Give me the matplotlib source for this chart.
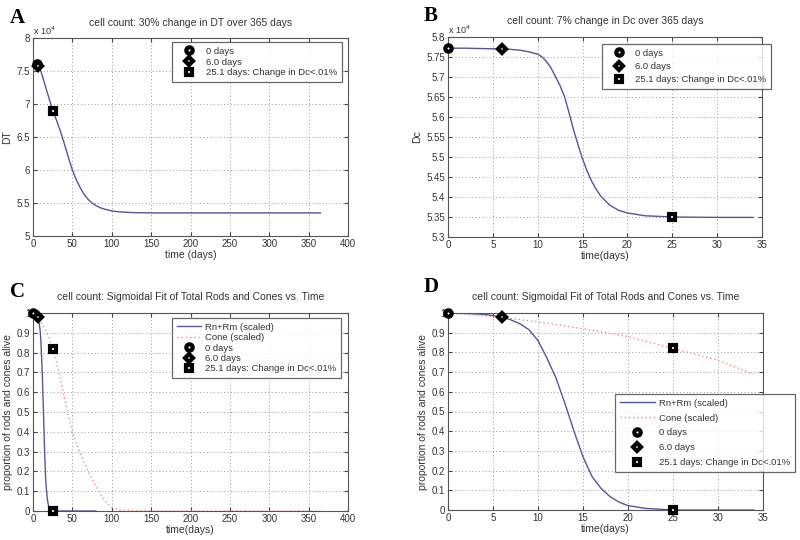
import numpy as np
import matplotlib.pyplot as plt
from matplotlib.ticker import FuncFormatter, MultipleLocator

plt.rcParams['font.family'] = ['Liberation Sans', 'DejaVu Sans']
plt.rcParams['font.size'] = 7

# panel A: DT over 365 days
a_t = [5, 10, 15, 20, 25, 30, 35, 40, 45, 50, 55, 60, 65, 70, 75, 80, 85, 90, 95, 100, 110, 125, 150, 200, 365]
a_dt = [7.60e4, 7.50e4, 7.30e4, 7.10e4, 6.90e4, 6.75e4, 6.58e4, 6.39e4, 6.19e4, 6.00e4, 5.85e4,
        5.73e4, 5.63e4, 5.555e4, 5.50e4, 5.46e4, 5.43e4, 5.41e4, 5.395e4, 5.38e4, 5.365e4, 5.355e4,
        5.35e4, 5.35e4, 5.35e4]
a_marks = {'o': (5, 7.60e4), 'D': (6, 7.58e4), 's': (25, 6.90e4)}

# panel B: Dc over 34 days
b_t = [0, 2, 4, 6, 7, 8, 9, 10, 10.5, 11, 11.5, 12, 12.5, 13, 13.5, 14, 14.5, 15, 15.5, 16, 16.5,
       17, 18, 19, 20, 22, 25, 30, 34]
b_dc = [5.772e4, 5.772e4, 5.771e4, 5.770e4, 5.769e4, 5.767e4, 5.763e4, 5.757e4, 5.750e4, 5.738e4,
        5.722e4, 5.700e4, 5.678e4, 5.650e4, 5.610e4, 5.568e4, 5.530e4, 5.495e4, 5.465e4, 5.440e4,
        5.420e4, 5.403e4, 5.380e4, 5.367e4, 5.360e4, 5.353e4, 5.350e4, 5.349e4, 5.349e4]
b_marks = {'o': (0, 5.772e4), 'D': (6, 5.770e4), 's': (25, 5.350e4)}

# panels C/D: rods and cones (scaled)
rod_t = [0, 2, 4, 6, 7, 8, 9, 10, 11, 12, 13, 14, 15, 16, 17, 18, 19, 20, 22, 25, 34]
rod_v = [1.0, 0.998, 0.993, 0.98, 0.965, 0.945, 0.915, 0.86, 0.77, 0.67, 0.54, 0.40, 0.27,
         0.17, 0.11, 0.068, 0.04, 0.022, 0.008, 0.0, 0.0]
rod_t_long = rod_t + [50, 80]
rod_v_long = rod_v + [0.0, 0.0]

cone_t = [0, 6, 10, 15, 20, 25, 30, 34]
cone_v = [1.0, 0.978, 0.955, 0.92, 0.88, 0.82, 0.76, 0.69]
cone_t_long = [0, 6, 10, 15, 20, 25, 30, 35, 40, 45, 50, 55, 60, 65, 70, 75, 80, 85, 90, 95,
               100, 110, 130, 150, 365]
cone_v_long = [1.0, 0.978, 0.955, 0.92, 0.88, 0.82, 0.75, 0.66, 0.57, 0.48, 0.40, 0.34, 0.29,
               0.245, 0.20, 0.16, 0.125, 0.09, 0.06, 0.035, 0.018, 0.006, 0.001, 0.0, 0.0]
cd_marks = {'o': [(0, 1.0)], 'D': [(6, 0.98)], 's': [(25, 0.82), (25, 0.0)]}

mark_labels = {'o': '0 days', 'D': '6.0 days', 's': '25.1 days: Change in Dc<.01%'}
blue = '#55559c'
pink = '#f08a8a'
txt = '#333333'

fig = plt.figure(figsize=(8, 5.4), dpi=100)


def style(ax, xmax, xstep):
    ax.set_xlim(0, xmax)
    ax.xaxis.set_major_locator(MultipleLocator(xstep))
    ax.grid(True, linestyle=(0, (1, 2.5)), color='#999999', linewidth=0.7)
    ax.tick_params(direction='in', top=True, right=True, length=3, labelsize=7,
                   colors='#444444', labelcolor=txt, pad=2)
    for s in ax.spines.values():
        s.set_color('#555555')
        s.set_linewidth(0.8)


def marker(ax, m, pts, label):
    xs = [p[0] for p in pts]
    ys = [p[1] for p in pts]
    size = 4.6 if m != 'D' else 4.3
    return ax.plot(xs, ys, m, ms=size, mfc='white', mec='black', mew=3.0,
                   linestyle='none', label=label, zorder=5, clip_on=False)[0]


def fig_legend(ax, handles, x0, y0, hl, hp, spacing):
    leg = ax.legend(handles=handles, loc='upper left', bbox_to_anchor=(x0 / 800, 1 - y0 / 540),
                    bbox_transform=fig.transFigure, fontsize=6.8, frameon=True, fancybox=False,
                    borderaxespad=0, handlelength=hl, labelspacing=spacing, borderpad=0.5,
                    handletextpad=hp)
    leg.get_frame().set_edgecolor('#444444')
    leg.get_frame().set_linewidth(0.9)
    for t in leg.get_texts():
        t.set_color(txt)
    return leg


sci = FuncFormatter(lambda v, p: f'{v / 1e4:g}')
order = ['o', 'D', 's']

# A
axA = fig.add_axes([33 / 800, 1 - 236 / 540, 315 / 800, 198 / 540])
axA.plot(a_t, a_dt, color=blue, lw=1.0)
hA = [marker(axA, m, [a_marks[m]], mark_labels[m]) for m in order]
style(axA, 400, 50)
axA.set_ylim(5e4, 8e4)
axA.yaxis.set_major_locator(MultipleLocator(0.5e4))
axA.yaxis.set_major_formatter(sci)
axA.set_title('cell count: 30% change in DT over 365 days', fontsize=7.5, color=txt, pad=9)
axA.set_xlabel('time (days)', fontsize=7.5, color=txt, labelpad=1)
axA.set_ylabel('DT', fontsize=7.5, color=txt, labelpad=3)
axA.text(0, 1.015, 'x 10$^4$', transform=axA.transAxes, fontsize=6.5, color=txt)
fig_legend(axA, hA, 172, 42, 2.7, 0.4, 0.2)
fig.text(10 / 800, 1 - 18 / 540, 'A', family='Liberation Serif', weight='bold', fontsize=15, va='center')

# B
axB = fig.add_axes([448 / 800, 1 - 237 / 540, 314 / 800, 200 / 540])
axB.plot(b_t, b_dc, color=blue, lw=1.0)
hB = [marker(axB, m, [b_marks[m]], mark_labels[m]) for m in order]
style(axB, 35, 5)
axB.set_ylim(5.3e4, 5.8e4)
axB.yaxis.set_major_locator(MultipleLocator(0.05e4))
axB.yaxis.set_major_formatter(sci)
axB.set_title('cell count: 7% change in Dc over 365 days', fontsize=7.5, color=txt, pad=9)
axB.set_xlabel('time(days)', fontsize=7.5, color=txt, labelpad=1)
axB.set_ylabel('Dc', fontsize=7.5, color=txt, labelpad=3)
axB.text(0, 1.015, 'x 10$^4$', transform=axB.transAxes, fontsize=6.5, color=txt)
fig_legend(axB, hB, 602, 44, 2.6, 0.4, 0.45)
fig.text(424 / 800, 1 - 16 / 540, 'B', family='Liberation Serif', weight='bold', fontsize=15, va='center')


def rods_cones(ax, rt, rv, ct, cv, xmax, xstep):
    l1, = ax.plot(rt, rv, color=blue, lw=1.0, label='Rn+Rm (scaled)')
    l2, = ax.plot(ct, cv, color=pink, lw=1.0, linestyle=(0, (1, 2)), label='Cone (scaled)')
    hs = [l1, l2] + [marker(ax, m, cd_marks[m], mark_labels[m]) for m in order]
    style(ax, xmax, xstep)
    ax.set_ylim(0, 1)
    ax.yaxis.set_major_locator(MultipleLocator(0.1))
    ax.yaxis.set_major_formatter(FuncFormatter(lambda v, p: f'{v:.1f}'.rstrip('0').rstrip('.') if v else '0'))
    ax.set_title('cell count: Sigmoidal Fit of Total Rods and Cones vs. Time', fontsize=7.5, color=txt, pad=9)
    ax.set_xlabel('time(days)', fontsize=7.5, color=txt, labelpad=1)
    ax.set_ylabel('proportion of rods and cones alive', fontsize=7.5, color=txt, labelpad=3)
    return hs


# C
axC = fig.add_axes([33 / 800, 1 - 511 / 540, 315 / 800, 198 / 540])
hC = rods_cones(axC, rod_t_long, rod_v_long, cone_t_long, cone_v_long, 400, 50)
fig_legend(axC, hC, 172, 318, 2.6, 0.4, 0.15)
fig.text(10 / 800, 1 - 292 / 540, 'C', family='Liberation Serif', weight='bold', fontsize=15, va='center')

# D
axD = fig.add_axes([448 / 800, 1 - 510 / 540, 315 / 800, 197 / 540])
hD = rods_cones(axD, rod_t, rod_v, cone_t, cone_v, 35, 5)
fig_legend(axD, hD, 615, 394, 3.7, 0.5, 0.62)
fig.text(424 / 800, 1 - 287 / 540, 'D', family='Liberation Serif', weight='bold', fontsize=15, va='center')

fig.savefig('out.png', dpi=100)
